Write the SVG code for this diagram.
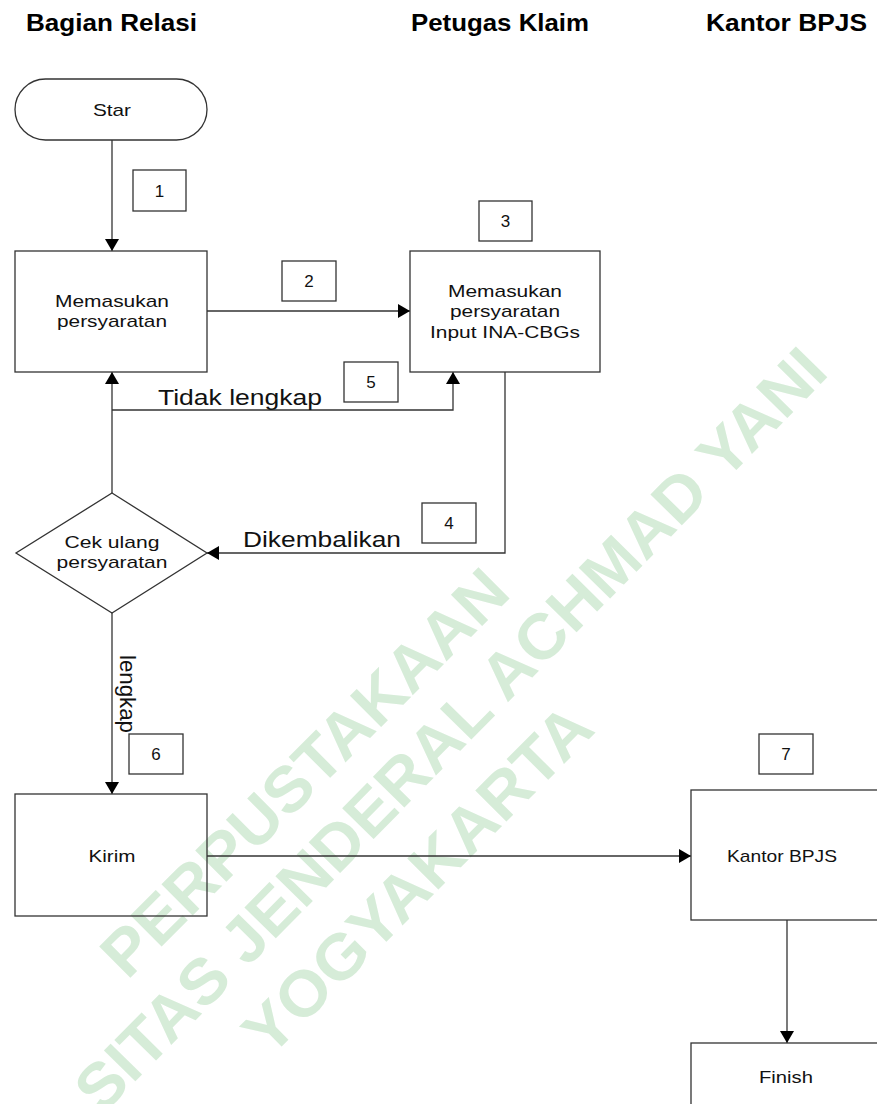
<svg xmlns="http://www.w3.org/2000/svg" width="877" height="1104" viewBox="0 0 877 1104">
<style>
.bg{fill:#ffffff}
.wm{font-family:"Liberation Sans",Arial,sans-serif;font-weight:bold;font-size:64px;fill:#d6ecd8;text-anchor:middle}
.hdr{font-family:"Liberation Sans",Arial,sans-serif;font-weight:bold;font-size:24px;fill:#000}
.shape{fill:none;stroke:#333;stroke-width:1.3}
.num{fill:none;stroke:#333;stroke-width:1.3}
.t{font-family:"Liberation Sans",Arial,sans-serif;font-size:17px;fill:#111;text-anchor:middle}
.lbl{font-family:"Liberation Sans",Arial,sans-serif;font-size:22px;fill:#111}
.con{fill:none;stroke:#333;stroke-width:1.3;marker-end:url(#ah)}
</style>
<defs>
<marker id="ah" markerUnits="userSpaceOnUse" markerWidth="12" markerHeight="14" refX="12" refY="7" orient="auto">
<path d="M0,0 L12,7 L0,14 z" fill="#000"/>
</marker>
</defs>
<rect class="bg" x="0" y="0" width="877" height="1104"/>
<g id="watermark">
<text class="wm" transform="translate(320,788) rotate(-45)" textLength="545" lengthAdjust="spacingAndGlyphs">PERPUSTAKAAN</text>
<text class="wm" transform="translate(466,745) rotate(-45.5)" textLength="1040" lengthAdjust="spacingAndGlyphs">SITAS JENDERAL ACHMAD YANI</text>
<text class="wm" transform="translate(433,895) rotate(-45)" textLength="463" lengthAdjust="spacingAndGlyphs">YOGYAKARTA</text>
</g>
<g id="headers">
<text class="hdr" x="26" y="31" textLength="171" lengthAdjust="spacingAndGlyphs">Bagian Relasi</text>
<text class="hdr" x="411" y="31" textLength="178" lengthAdjust="spacingAndGlyphs">Petugas Klaim</text>
<text class="hdr" x="706" y="31" textLength="161" lengthAdjust="spacingAndGlyphs">Kantor BPJS</text>
</g>
<g id="connectors">
<path class="con" d="M112,140 L112,251"/>
<path class="con" d="M207,311 L410,311"/>
<path class="con" d="M505,372 L505,553 L207,553"/>
<path class="con" d="M112,493 L112,372"/>
<path class="con" d="M112,410 L453,410 L453,372"/>
<path class="con" d="M112,613 L112,794"/>
<path class="con" d="M207,856 L691,856"/>
<path class="con" d="M787,920 L787,1043"/>
<text class="lbl" x="158" y="405" textLength="164" lengthAdjust="spacingAndGlyphs">Tidak lengkap</text>
<text class="lbl" x="243" y="547" textLength="158" lengthAdjust="spacingAndGlyphs">Dikembalikan</text>
<text class="lbl" transform="translate(120,655) rotate(90)" textLength="78" lengthAdjust="spacingAndGlyphs">lengkap</text>
</g>
<g id="start">
<rect class="shape" x="15" y="79" width="192" height="61" rx="30.5"/>
<text class="t" x="112" y="116" textLength="38" lengthAdjust="spacingAndGlyphs">Star</text>
</g>
<g id="n1">
<rect class="shape" x="15" y="251" width="192" height="121"/>
<text class="t" x="112" y="307" textLength="114" lengthAdjust="spacingAndGlyphs">Memasukan</text>
<text class="t" x="112" y="327" textLength="110" lengthAdjust="spacingAndGlyphs">persyaratan</text>
</g>
<g id="n2">
<rect class="shape" x="410" y="251" width="190" height="121"/>
<text class="t" x="505" y="297" textLength="114" lengthAdjust="spacingAndGlyphs">Memasukan</text>
<text class="t" x="505" y="317" textLength="110" lengthAdjust="spacingAndGlyphs">persyaratan</text>
<text class="t" x="505" y="338" textLength="150" lengthAdjust="spacingAndGlyphs">Input INA-CBGs</text>
</g>
<g id="decision">
<polygon class="shape" points="112,493 207,553 112,613 16,553"/>
<text class="t" x="112" y="548" textLength="95" lengthAdjust="spacingAndGlyphs">Cek ulang</text>
<text class="t" x="112" y="568" textLength="111" lengthAdjust="spacingAndGlyphs">persyaratan</text>
</g>
<g id="kirim">
<rect class="shape" x="15" y="794" width="192" height="122"/>
<text class="t" x="112" y="862" textLength="47" lengthAdjust="spacingAndGlyphs">Kirim</text>
</g>
<g id="kantor">
<rect class="shape" x="691" y="790" width="220" height="130"/>
<text class="t" x="782" y="862" textLength="110" lengthAdjust="spacingAndGlyphs">Kantor BPJS</text>
</g>
<g id="finish">
<rect class="shape" x="691" y="1043" width="220" height="100"/>
<text class="t" x="786" y="1083" textLength="54" lengthAdjust="spacingAndGlyphs">Finish</text>
</g>
<g id="step1"><rect class="num" x="133" y="170" width="53" height="41"/><text class="t" x="159.5" y="197">1</text></g>
<g id="step2"><rect class="num" x="282" y="261" width="54" height="40"/><text class="t" x="309" y="287">2</text></g>
<g id="step3"><rect class="num" x="479" y="201" width="53" height="40"/><text class="t" x="505.5" y="227">3</text></g>
<g id="step4"><rect class="num" x="422" y="503" width="54" height="40"/><text class="t" x="449" y="529">4</text></g>
<g id="step5"><rect class="num" x="344" y="362" width="54" height="40"/><text class="t" x="371" y="388">5</text></g>
<g id="step6"><rect class="num" x="129" y="734" width="54" height="40"/><text class="t" x="156" y="760">6</text></g>
<g id="step7"><rect class="num" x="759" y="734" width="54" height="40"/><text class="t" x="786" y="760">7</text></g>
</svg>
